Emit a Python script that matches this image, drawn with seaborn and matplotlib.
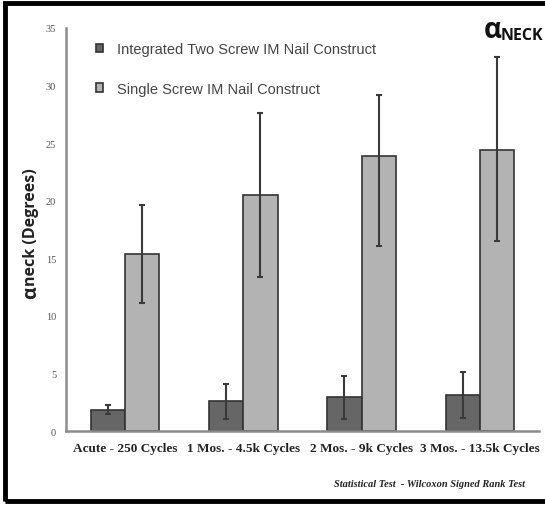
import numpy as np
import pandas as pd
import matplotlib
matplotlib.use("Agg")
import matplotlib.pyplot as plt
import matplotlib.patches as mpatches
import seaborn as sns

categories = ["Acute - 250 Cycles", "1 Mos. - 4.5k Cycles",
              "2 Mos. - 9k Cycles", "3 Mos. - 13.5k Cycles"]
series = ["Integrated Two Screw IM Nail Construct", "Single Screw IM Nail Construct"]

two_screw = [1.85, 2.6, 2.95, 3.15]
two_screw_low = [1.45, 1.05, 1.05, 1.1]
two_screw_high = [2.25, 4.1, 4.75, 5.1]

single_screw = [15.4, 20.5, 23.9, 24.4]
single_screw_low = [11.1, 13.35, 16.05, 16.5]
single_screw_high = [19.65, 27.6, 29.2, 32.5]

yticks = [0, 5, 10, 15, 20, 25, 30, 35]

df = pd.DataFrame({
    "period": categories * 2,
    "construct": [series[0]] * 4 + [series[1]] * 4,
    "angle": two_screw + single_screw,
})

sns.set_style("white")
plt.rcParams["font.family"] = ["Liberation Sans", "DejaVu Sans"]

fig = plt.figure(figsize=(5.45, 5.06), dpi=100)
ax = fig.add_axes([0.121, 0.146, 0.868, 0.797])

sns.barplot(data=df, x="period", y="angle", hue="construct",
            order=categories, hue_order=series,
            palette=["#666666", "#b3b3b3"], width=0.58,
            edgecolor="#333333", linewidth=1.2, errorbar=None, ax=ax)

# asymmetric error bars on top of the seaborn bars
lows = [two_screw_low, single_screw_low]
highs = [two_screw_high, single_screw_high]
means = [two_screw, single_screw]
for cont, m, lo, hi in zip(ax.containers, means, lows, highs):
    xs = [b.get_x() + b.get_width() / 2 for b in cont]
    yerr = [np.array(m) - np.array(lo), np.array(hi) - np.array(m)]
    ax.errorbar(xs, m, yerr=yerr, fmt="none", ecolor="#3a3a3a",
                elinewidth=1.5, capsize=2, capthick=1.5, zorder=5)

ax.set_ylim(0, 35)
ax.set_xlim(-0.5, 3.5)
ax.set_yticks(yticks)
ax.set_yticklabels([str(t) for t in yticks], family="Liberation Serif",
                   fontsize=7.5, color="#555555")
ax.set_xticks(range(len(categories)))
ax.set_xticklabels(categories, family="Liberation Serif", fontweight="bold",
                   fontsize=9.5, color="#222222")
ax.tick_params(axis="y", length=3, width=1, color="#888888", pad=4)
ax.tick_params(axis="x", length=0, pad=8)
ax.set_xlabel("")
ax.set_ylabel("")
for s in ["top", "right"]:
    ax.spines[s].set_visible(False)
for s in ["left", "bottom"]:
    ax.spines[s].set_color("#8c8c8c")
    ax.spines[s].set_linewidth(1.8)

leg = ax.legend(loc="upper left", bbox_to_anchor=(0.036, 0.997), frameon=False,
                fontsize=10.5, handlelength=0.5, handleheight=0.5,
                handletextpad=0.9, labelspacing=1.75)
for t in leg.get_texts():
    t.set_color("#444444")

# y label: alpha + "neck (Degrees)"
fig.text(0.057, 0.421, "α", rotation=90, fontsize=14, fontweight="bold",
         family="Open Sans", ha="center", va="center", color="#222222")
fig.text(0.057, 0.552, "neck (Degrees)", rotation=90, fontsize=11.5,
         fontweight="bold", family="Open Sans", ha="center", va="center",
         color="#222222")

# title in the corner
fig.text(0.888, 0.94, "α", fontsize=20, fontweight="bold", family="Open Sans",
         ha="left", va="center", color="#111111")
fig.text(0.918, 0.928, "NECK", fontsize=11.5, fontweight="bold",
         family="Open Sans", ha="left", va="center", color="#111111")

fig.text(0.963, 0.042, "Statistical Test  - Wilcoxon Signed Rank Test",
         family="Liberation Serif", style="italic", fontweight="bold",
         fontsize=7.5, ha="right", va="center", color="#222222")

# black frame around the figure (open on the right, as cropped)
frame = mpatches.Rectangle((0.009, 0.008), 1.1, 0.984, transform=fig.transFigure,
                           fill=False, edgecolor="black", linewidth=3.5,
                           clip_on=False)
fig.patches.append(frame)

fig.savefig("out.png", dpi=100)
